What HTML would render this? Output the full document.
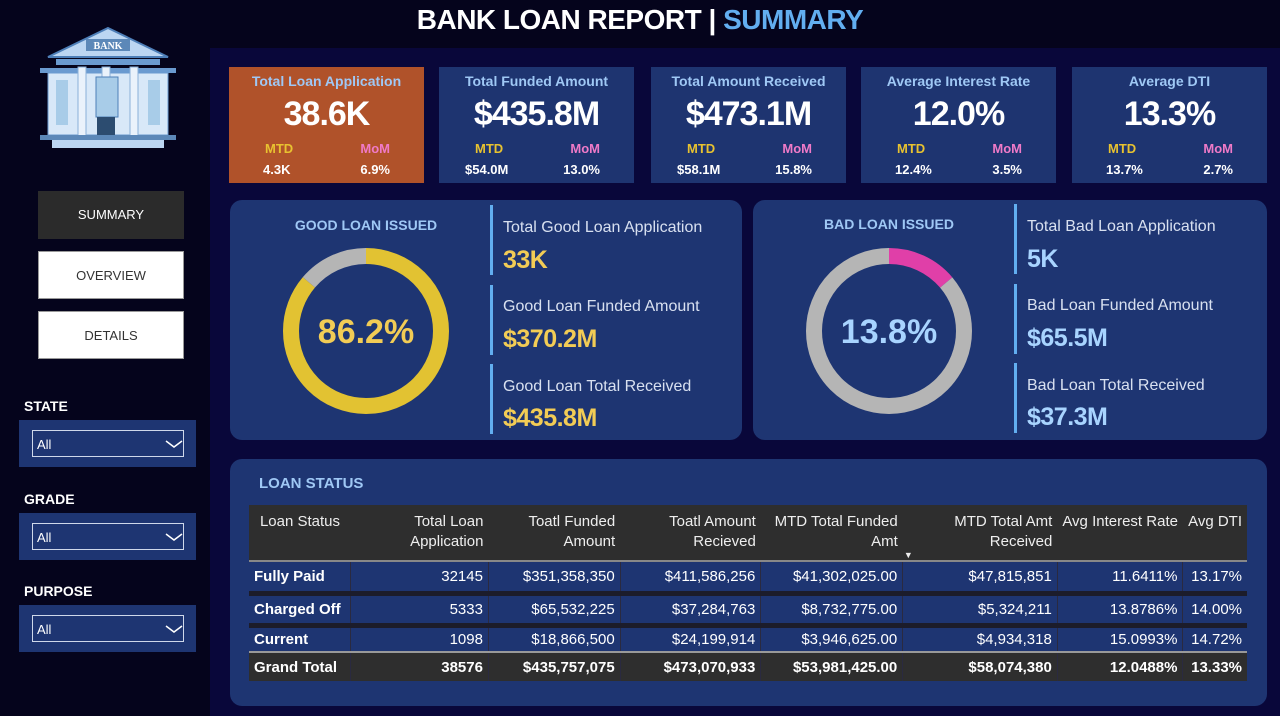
<!DOCTYPE html>
<html><head><meta charset="utf-8">
<style>
*{box-sizing:border-box;margin:0;padding:0}
body{width:1280px;height:716px;background:#05041c;font-family:"Liberation Sans",sans-serif;position:relative;overflow:hidden;color:#fff}
.a{position:absolute}
.title{left:0;width:1280px;top:4px;text-align:center;font-size:28px;font-weight:bold;letter-spacing:-0.5px}
.main{left:210px;top:48px;width:1070px;height:668px;background:#09073a}
.kpi{top:67px;height:116px;width:195px;background:#1e3470;text-align:center}
.kpi .t{position:absolute;top:6px;left:0;width:100%;font-size:14px;font-weight:bold;color:#9fc8f5}
.kpi .v{position:absolute;top:28px;left:0;width:100%;font-size:34px;font-weight:bold;letter-spacing:-1px;font-family:"Liberation Sans Narrow","Liberation Sans",sans-serif}
.kpi .m1{position:absolute;left:36px;top:74px;font-size:13px;font-weight:bold;color:#e8c230}
.kpi .m2{position:absolute;right:34px;top:74px;font-size:13px;font-weight:bold;color:#f07ac8}
.kpi .n1{position:absolute;left:34px;top:95px;font-size:13px;font-weight:bold}
.kpi .n2{position:absolute;right:34px;top:95px;font-size:13px;font-weight:bold}
.pan{background:#1e3572;border-radius:12px}
.btn{left:38px;width:146px;height:48px;font-size:13px;text-align:center;line-height:48px}
.lbl{left:24px;font-size:14px;font-weight:bold}
.dd{left:19px;width:177px;height:47px;background:#1e3572}
.dd div{position:absolute;left:13px;top:10px;width:152px;height:27px;border:1px solid #cfd8ea;font-size:13px;padding:6px 0 0 4px}
.dd svg{position:absolute;left:146px;top:19px}
.bar{width:3px;background:#62aef0}
.st{font-size:16px;color:#d8e0f0}
.sv{font-size:25px;font-weight:bold;color:#f2cc55;letter-spacing:-0.5px;font-family:"Liberation Sans Narrow","Liberation Sans",sans-serif}
.bv{color:#a8d4ff}
table{border-collapse:collapse;font-family:"Liberation Sans Narrow","Liberation Sans",sans-serif}
td,th{font-size:15px;text-align:right;padding:0 5px;white-space:nowrap}
table td+td{border-left:1px solid #2a2a40}
</style></head><body>
<div class="a title">BANK LOAN REPORT | <span style="color:#62aef0">SUMMARY</span></div>

<svg class="a" style="left:38px;top:25px" width="140" height="128" viewBox="0 0 140 128">
<polygon points="70,3 130,32 10,32" fill="#bcd6f2" stroke="#4e7fb8" stroke-width="2"/>
<rect x="48" y="14" width="44" height="12" fill="#5c88b8"/>
<text x="70" y="24" font-size="10" font-weight="bold" fill="#fff" text-anchor="middle" font-family="Liberation Serif">BANK</text>
<rect x="18" y="34" width="104" height="6" fill="#6a9ad0"/>
<rect x="2" y="43" width="136" height="5" fill="#6a9ad0"/>
<rect x="10" y="48" width="120" height="62" fill="#d8e8f8" stroke="#6a9ad0"/>
<rect x="18" y="55" width="12" height="45" fill="#a8cce8"/><rect x="110" y="55" width="12" height="45" fill="#a8cce8"/>
<rect x="40" y="42" width="8" height="72" fill="#eaf2fb" stroke="#8ab0d8"/><rect x="92" y="42" width="8" height="72" fill="#eaf2fb" stroke="#8ab0d8"/>
<rect x="64" y="42" width="8" height="72" fill="#eaf2fb" stroke="#8ab0d8"/>
<rect x="58" y="52" width="22" height="40" fill="#a8cce8" stroke="#4e7fb8"/>
<rect x="59" y="92" width="18" height="20" fill="#2c4c70"/>
<rect x="2" y="110" width="136" height="5" fill="#5c88b8"/>
<rect x="14" y="115" width="112" height="8" fill="#bcd6f2"/>
</svg>

<div class="a btn" style="top:191px;background:#2b2b2b;color:#fff">SUMMARY</div>
<div class="a btn" style="top:251px;background:#fff;color:#333;border:1px solid #999">OVERVIEW</div>
<div class="a btn" style="top:311px;background:#fff;color:#333;border:1px solid #999">DETAILS</div>

<div class="a lbl" style="top:398px">STATE</div>
<div class="a dd" style="top:420px"><div>All</div><svg width="18" height="10"><polyline points="1,2 9,8 17,2" fill="none" stroke="#fff" stroke-width="1.5"/></svg></div>
<div class="a lbl" style="top:491px">GRADE</div>
<div class="a dd" style="top:513px"><div>All</div><svg width="18" height="10"><polyline points="1,2 9,8 17,2" fill="none" stroke="#fff" stroke-width="1.5"/></svg></div>
<div class="a lbl" style="top:583px">PURPOSE</div>
<div class="a dd" style="top:605px"><div>All</div><svg width="18" height="10"><polyline points="1,2 9,8 17,2" fill="none" stroke="#fff" stroke-width="1.5"/></svg></div>

<div class="a main"></div>

<div class="a kpi" style="left:229px;background:#b0522a"><div class="t">Total Loan Application</div><div class="v">38.6K</div><div class="m1">MTD</div><div class="m2">MoM</div><div class="n1">4.3K</div><div class="n2">6.9%</div></div>
<div class="a kpi" style="left:439px"><div class="t">Total Funded Amount</div><div class="v">$435.8M</div><div class="m1">MTD</div><div class="m2">MoM</div><div class="n1" style="left:26px">$54.0M</div><div class="n2">13.0%</div></div>
<div class="a kpi" style="left:651px"><div class="t">Total Amount Received</div><div class="v">$473.1M</div><div class="m1">MTD</div><div class="m2">MoM</div><div class="n1" style="left:26px">$58.1M</div><div class="n2">15.8%</div></div>
<div class="a kpi" style="left:861px"><div class="t">Average Interest Rate</div><div class="v">12.0%</div><div class="m1">MTD</div><div class="m2">MoM</div><div class="n1">12.4%</div><div class="n2">3.5%</div></div>
<div class="a kpi" style="left:1072px"><div class="t">Average DTI</div><div class="v">13.3%</div><div class="m1">MTD</div><div class="m2">MoM</div><div class="n1">13.7%</div><div class="n2">2.7%</div></div>

<div class="a pan" style="left:230px;top:200px;width:512px;height:240px"></div>
<div class="a" style="left:230px;width:272px;top:217px;text-align:center;font-size:14px;font-weight:bold;color:#9fc8f5">GOOD LOAN ISSUED</div>
<svg class="a" id="goodDonut" style="left:230px;top:200px" width="272" height="240"></svg>
<div class="a bar" style="left:490px;top:205px;height:70px"></div>
<div class="a bar" style="left:490px;top:285px;height:70px"></div>
<div class="a bar" style="left:490px;top:364px;height:70px"></div>
<div class="a st" style="left:503px;top:219px">Total Good Loan Application</div>
<div class="a sv" style="left:503px;top:246px">33K</div>
<div class="a st" style="left:503px;top:298px">Good Loan Funded Amount</div>
<div class="a sv" style="left:503px;top:325px">$370.2M</div>
<div class="a st" style="left:503px;top:378px">Good Loan Total Received</div>
<div class="a sv" style="left:503px;top:404px">$435.8M</div>

<div class="a pan" style="left:753px;top:200px;width:514px;height:240px"></div>
<div class="a" style="left:753px;width:272px;top:216px;text-align:center;font-size:14px;font-weight:bold;color:#9fc8f5">BAD LOAN ISSUED</div>
<svg class="a" id="badDonut" style="left:753px;top:200px" width="272" height="240"></svg>
<div class="a bar" style="left:1014px;top:204px;height:70px"></div>
<div class="a bar" style="left:1014px;top:284px;height:70px"></div>
<div class="a bar" style="left:1014px;top:363px;height:70px"></div>
<div class="a st" style="left:1027px;top:218px">Total Bad Loan Application</div>
<div class="a sv bv" style="left:1027px;top:245px">5K</div>
<div class="a st" style="left:1027px;top:297px">Bad Loan Funded Amount</div>
<div class="a sv bv" style="left:1027px;top:324px">$65.5M</div>
<div class="a st" style="left:1027px;top:377px">Bad Loan Total Received</div>
<div class="a sv bv" style="left:1027px;top:403px">$37.3M</div>

<div class="a pan" style="left:230px;top:459px;width:1037px;height:247px"></div>
<div class="a" style="left:259px;top:475px;font-size:15px;font-weight:bold;color:#9fc8f5">LOAN STATUS</div>
<table class="a" style="left:249px;top:505px;width:998px">
<colgroup><col style="width:102px"><col style="width:138px"><col style="width:132px"><col style="width:141px"><col style="width:142px"><col style="width:155px"><col style="width:124px"><col style="width:64px"></colgroup>
<tr style="background:#2e2e2e;height:56px;vertical-align:top;color:#eee">
<th style="text-align:center;font-weight:normal;padding-top:7px;line-height:20px">Loan Status</th>
<th style="font-weight:normal;padding-top:7px;line-height:20px">Total Loan<br>Application</th>
<th style="font-weight:normal;padding-top:7px;line-height:20px">Toatl Funded<br>Amount</th>
<th style="font-weight:normal;padding-top:7px;line-height:20px">Toatl Amount<br>Recieved</th>
<th style="font-weight:normal;padding-top:7px;line-height:20px;position:relative">MTD Total Funded<br>Amt<span style="position:absolute;right:-10px;top:40px;font-size:9px">▼</span></th>
<th style="font-weight:normal;padding-top:7px;line-height:20px">MTD Total Amt<br>Received</th>
<th style="font-weight:normal;padding-top:7px;line-height:20px">Avg Interest Rate</th>
<th style="font-weight:normal;padding-top:7px;line-height:20px">Avg DTI</th></tr>
<tr style="background:#1e3572;height:32px;border-top:2px solid #888;border-bottom:5px solid #1c1c2a"><td style="text-align:left;font-weight:bold">Fully Paid</td><td>32145</td><td>$351,358,350</td><td>$411,586,256</td><td>$41,302,025.00</td><td>$47,815,851</td><td>11.6411%</td><td>13.17%</td></tr>
<tr style="background:#1e3572;height:32px;border-bottom:5px solid #1c1c2a"><td style="text-align:left;font-weight:bold">Charged Off</td><td>5333</td><td>$65,532,225</td><td>$37,284,763</td><td>$8,732,775.00</td><td>$5,324,211</td><td>13.8786%</td><td>14.00%</td></tr>
<tr style="background:#1e3572;height:27px"><td style="text-align:left;font-weight:bold">Current</td><td>1098</td><td>$18,866,500</td><td>$24,199,914</td><td>$3,946,625.00</td><td>$4,934,318</td><td>15.0993%</td><td>14.72%</td></tr>
<tr style="background:#2e2e2e;height:29px;border-top:2px solid #999;font-weight:bold"><td style="text-align:left;font-weight:bold">Grand Total</td><td>38576</td><td>$435,757,075</td><td>$473,070,933</td><td>$53,981,425.00</td><td>$58,074,380</td><td>12.0488%</td><td>13.33%</td></tr>
</table>

<script>
const goodValues=[86.2,13.8];
const goodColors=['#e2c232','#b5b5b5'];
const badValues=[13.8,86.2];
const badColors=['#e03fa8','#b5b5b5'];
const NS='http://www.w3.org/2000/svg';
function donut(id,vals,cols,label,labCol){
  const svg=document.getElementById(id);
  const cx=136,cy=131,r=75,w=16,C=2*Math.PI*r;
  const total=vals.reduce((a,b)=>a+b,0);
  let off=0;
  vals.forEach((v,i)=>{
    const c=document.createElementNS(NS,'circle');
    
    
    const len=v/total*C;
    c.setAttribute('cx',cx);c.setAttribute('cy',cy);c.setAttribute('r',r);
    c.setAttribute('fill','none');c.setAttribute('stroke',cols[i]);c.setAttribute('stroke-width',w);
    c.setAttribute('stroke-dasharray',len+' '+(C-len));
    c.setAttribute('stroke-dashoffset',-off);
    c.setAttribute('transform','rotate(-90 '+cx+' '+cy+')');
    svg.appendChild(c);off+=len;
  });
  const t=document.createElementNS(NS,'text');
  
  
  t.setAttribute('x',cx);t.setAttribute('y',cy+12);t.setAttribute('text-anchor','middle');
  t.setAttribute('font-size','34');t.setAttribute('font-weight','bold');
  t.setAttribute('font-family','Liberation Sans Narrow, Liberation Sans, sans-serif');
  t.setAttribute('fill',labCol);t.textContent=label;svg.appendChild(t);
}
donut('goodDonut',goodValues,goodColors,goodValues[0].toFixed(1)+'%','#f2cc55');
donut('badDonut',badValues,badColors,badValues[0].toFixed(1)+'%','#a8d4ff');
</script>
</body></html>
